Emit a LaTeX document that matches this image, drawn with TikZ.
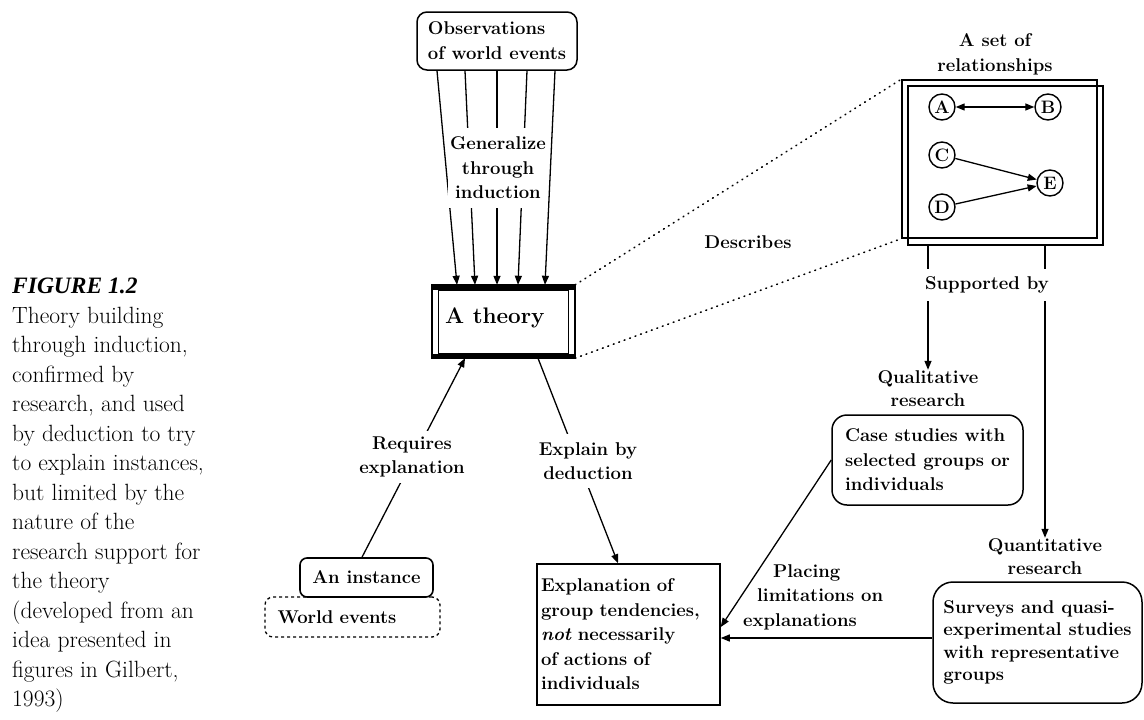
\documentclass[tikz,border=0pt]{standalone}
\usepackage{fontspec}
\newfontfamily\figfont{Liberation Serif}
\usetikzlibrary{arrows.meta,calc}
\begin{document}
\begin{tikzpicture}[x=1pt,y=-1pt,
  lblfont/.style={font=\fontsize{18.5}{24.5}\selectfont\bfseries},
  lbl/.style={lblfont, align=center, inner sep=1pt},
  cut/.style={lbl, fill=white},
  conn/.style={line width=1.3pt},
  arr/.style={conn, -{Triangle[length=9pt,width=7pt]}},
  rbox/.style={draw, line width=1.5pt, lblfont, align=left},
  circ/.style={draw, circle, line width=1.4pt, minimum size=26pt, inner sep=0pt,
               font=\fontsize{18}{18}\selectfont\bfseries},
  dotline/.style={line width=1.6pt, dash pattern=on 0.8pt off 5pt, line cap=round},
]
\useasboundingbox (0,0) rectangle (1144,720);

% ---- caption ----
\node[anchor=north west, inner sep=0pt, align=left,
      font=\fontsize{23.5}{29.5}\selectfont] (cap) at (12,278)
  {{\figfont\bfseries\itshape FIGURE 1.2}\\
   Theory building\\
   through induction,\\
   confirmed by\\
   research, and used\\
   by deduction to try\\
   to explain instances,\\
   but limited by the\\
   nature of the\\
   research support for\\
   the theory\\
   (developed from an\\
   idea presented in\\
   figures in Gilbert,\\
   1993)};

% ---- observations and the theory ----
\node[rbox, rounded corners=10pt, minimum width=160pt, minimum height=58pt,
      font=\fontsize{18.5}{25}\selectfont\bfseries] (obs) at (497,41)
  {Observations\\of world events};

\node[minimum width=143pt, minimum height=73pt, inner sep=0pt] (theory) at (503.5,321.5) {};
\draw[line width=1.5pt] (theory.north west) rectangle (theory.south east);
\draw[line width=1.2pt] ([shift={(7pt,-6pt)}]theory.north west)
  rectangle ([shift={(-7pt,5pt)}]theory.south east);
\fill (theory.north west) rectangle ([yshift=-5pt]theory.north east);
\fill ([yshift=4pt]theory.south west) rectangle (theory.south east);
\node[anchor=west, inner sep=0pt, font=\fontsize{22.5}{24}\selectfont\bfseries]
  (theorytxt) at (445,318) {A theory};

% induction arrows
\foreach \a/\b in {-60/-46.5, -32/-28.5, 0/-6.5, 30/14.5, 58/41.5}
  \draw[arr] ([xshift=\a pt]obs.south) -- ([xshift=\b pt]theory.north);
\node[cut, text width=100pt, inner xsep=0pt, minimum height=80pt] (gen) at (498,168)
  {Generalize\\through\\induction};

% ---- set of relationships ----
\node[lbl] (settitle) at (995,54.5) {A set of\\relationships};
\node[draw, line width=1.5pt, minimum width=195pt, minimum height=158pt, inner sep=0pt]
  (rel) at (999.5,159) {};
\node[draw, line width=1.5pt, minimum width=195pt, minimum height=159pt, inner sep=0pt]
  (relb) at (1005.5,165.5) {};

\node[circ] (A) at (942,107) {A};
\node[circ] (B) at (1048,107) {B};
\node[circ] (C) at (942,155) {C};
\node[circ] (E) at (1050,183) {E};
\node[circ] (D) at (942,207) {D};
\draw[conn, {Triangle[length=9pt,width=7pt]}-{Triangle[length=9pt,width=7pt]}] (A) -- (B);
\draw[arr] (C) -- (E);
\draw[arr] (D) -- (E);

% describes
\draw[dotline] (theory.north east) -- (rel.north west);
\draw[dotline] (theory.south east) -- (rel.south west);
\node[lbl] (desc) at (748,242) {Describes};

% ---- research support ----
\node[lbl, font=\fontsize{18.5}{23}\selectfont\bfseries] (qual) at (928,389) {Qualitative\\research};
\node[lbl, font=\fontsize{18.5}{23}\selectfont\bfseries] (quant) at (1045,557) {Quantitative\\research};
\draw[arr] (qual.north |- relb.south) -- (qual.north);
\draw[arr] (quant.north |- relb.south) -- (quant.north);
\node[cut, minimum height=32pt] (sup) at (987,285) {Supported by};

\node[rbox, rounded corners=15pt, minimum width=191pt, minimum height=90pt] (case)
  at (927.5,460) {Case studies with\\selected groups or\\individuals};
\node[rbox, rounded corners=20pt, minimum width=209pt, minimum height=121pt,
      font=\fontsize{18.5}{22.5}\selectfont\bfseries] (surv)
  at (1037.5,642.5) {Surveys and quasi-\\experimental studies\\with representative\\groups};

% ---- instances and explanation ----
\node[draw, dash pattern=on 3pt off 3pt, line width=1.3pt, rounded corners=8pt,
      minimum width=175pt, minimum height=40pt, text width=150pt, inner xsep=12.5pt,
      align=left, lblfont] (world) at (352.5,617) {World events};
\node[draw, fill=white, line width=1.6pt, rounded corners=7pt, minimum width=133pt,
      minimum height=39pt, lblfont] (inst) at (366.5,577.5) {An instance};

\node[draw, line width=1.5pt, minimum width=183pt, minimum height=141pt,
      text width=175pt, inner xsep=4pt, align=left, lblfont] (expl) at (628.5,634.5)
  {Explanation of\\group tendencies,\\\textit{not} necessarily\\of actions of\\individuals};

\draw[arr] ([xshift=-4.5pt]inst.north) -- ([xshift=-38.5pt]theory.south);
\node[cut, minimum height=52pt] (req) at (412,457) {Requires\\explanation};

\draw[arr] ([xshift=34.5pt]theory.south) -- ([xshift=-10.5pt]expl.north);
\node[cut, minimum height=54pt] (expby) at (588,461) {Explain by\\deduction};

\draw[arr] (case.west) -- ([yshift=7.5pt]expl.east);
\draw[arr] ([yshift=4.5pt]surv.west) -- ([yshift=-3.5pt]expl.east);
\node[lbl, align=left, anchor=west] (plc) at (742,597)
  {\hspace*{30pt}Placing\\\hspace*{14pt}limitations on\\explanations};
\end{tikzpicture}
\end{document}
